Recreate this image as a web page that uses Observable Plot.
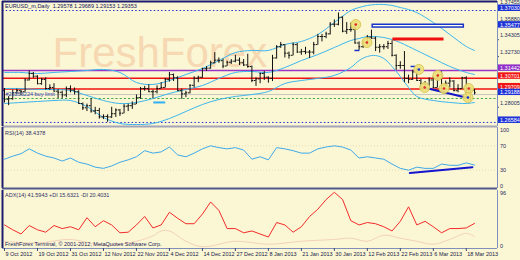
<!DOCTYPE html>
<html>
<head>
<meta charset="utf-8">
<script src="https://cdn.jsdelivr.net/npm/d3@7"></script>
<script src="https://cdn.jsdelivr.net/npm/@observablehq/plot@0.6"></script>
<style>
  html, body { margin: 0; padding: 0; background: #fbf7d4; }
  #chart { position: relative; width: 520px; height: 260px; background: #fbf7d4; overflow: hidden; }
  #chart > svg { position: absolute; left: 0; top: 0; }
</style>
</head>
<body>
<div id="chart"></div>
<script>
// ---------------- texts ----------------
const symbolTitle = "EURUSD_m,Daily  1.29578 1.29689 1.29153 1.29353";
const rsiTitle = "RSI(14) 38.4378";
const adxTitle = "ADX(14) 41.5943 +DI 15.6321 -DI 20.4031";
const copyright = "FreshForex Terminal, \u00A9 2001-2012, MetaQuotes Software Corp.";
const watermark = "FreshForex";
const orderLabel = "#26253224 buy limit";

// ---------------- daily bars (bar index 0 = 9 Oct 2012) ----------------
const barOpen = [1.2955,1.2875,1.2880,1.2935,1.2955,1.2945,1.3055,1.3115,1.3090,1.3020,
1.3060,1.2975,1.2985,1.2950,1.2940,1.2915,1.2975,1.2960,1.2945,1.2835,
1.2795,1.2815,1.2765,1.2770,1.2710,1.2715,1.2710,1.2740,1.2775,1.2745,
1.2810,1.2815,1.2830,1.2890,1.2975,1.2975,1.2945,1.2945,1.2975,1.2985,
1.3060,1.3105,1.3075,1.2955,1.2925,1.2935,1.3005,1.3070,1.3080,1.3160,
1.3165,1.3215,1.3240,1.3235,1.3185,1.3220,1.3230,1.3240,1.3215,1.3195,
1.3180,1.3050,1.3065,1.3115,1.3080,1.3070,1.3260,1.3365,1.3385,1.3305,
1.3285,1.3385,1.3315,1.3320,1.3315,1.3315,1.3385,1.3460,1.3460,1.3485,
1.3575,1.3575,1.3640,1.3510,1.3525,1.3525,1.3400,1.3365,1.3405,1.3455,
1.3445,1.3360,1.3365,1.3365,1.3395,1.3285,1.3190,1.3190,1.3070,1.3060,
1.3130,1.3050,1.3020,1.3010,1.3055,1.2985,1.3105,1.3000,1.3025,1.3045,
1.2955,1.2975,1.3075,1.2960,1.29578];
const barHigh = [1.2975,1.2900,1.2960,1.2970,1.2960,1.3065,1.3140,1.3125,1.3095,1.3070,
1.3075,1.3010,1.3020,1.2965,1.2950,1.2990,1.3000,1.2980,1.2955,1.2840,
1.2830,1.2880,1.2800,1.2790,1.2730,1.2730,1.2800,1.2785,1.2780,1.2825,
1.2830,1.2850,1.2915,1.2985,1.2995,1.3010,1.2960,1.3000,1.3030,1.3070,
1.3125,1.3110,1.3085,1.2970,1.2950,1.3010,1.3085,1.3090,1.3165,1.3180,
1.3230,1.3310,1.3260,1.3250,1.3230,1.3245,1.3285,1.3260,1.3245,1.3295,
1.3185,1.3075,1.3120,1.3135,1.3085,1.3285,1.3375,1.3405,1.3385,1.3315,
1.3400,1.3395,1.3340,1.3360,1.3330,1.3405,1.3480,1.3480,1.3500,1.3590,
1.3615,1.3680,1.3645,1.3590,1.3585,1.3575,1.3410,1.3420,1.3470,1.3520,
1.3455,1.3385,1.3385,1.3415,1.3420,1.3290,1.3225,1.3320,1.3100,1.3145,
1.3160,1.3060,1.3040,1.3075,1.3085,1.3110,1.3130,1.3045,1.3075,1.3050,
1.3010,1.3080,1.3085,1.2990,1.29689];
const barLow = [1.2840,1.2815,1.2865,1.2920,1.2910,1.2940,1.3045,1.3070,1.3010,1.3005,
1.2960,1.2955,1.2945,1.2880,1.2880,1.2890,1.2935,1.2915,1.2830,1.2770,
1.2760,1.2745,1.2730,1.2690,1.2685,1.2660,1.2695,1.2705,1.2715,1.2740,
1.2760,1.2780,1.2825,1.2875,1.2950,1.2940,1.2880,1.2925,1.2970,1.2980,
1.3035,1.3040,1.2950,1.2875,1.2890,1.2925,1.2980,1.3030,1.3070,1.3135,
1.3155,1.3205,1.3210,1.3160,1.3180,1.3200,1.3215,1.3190,1.3180,1.3165,
1.3030,1.2995,1.3020,1.3050,1.3025,1.3040,1.3250,1.3350,1.3260,1.3250,
1.3280,1.3305,1.3285,1.3290,1.3255,1.3290,1.3380,1.3410,1.3440,1.3475,
1.3545,1.3560,1.3495,1.3480,1.3500,1.3390,1.3330,1.3350,1.3375,1.3435,
1.3320,1.3305,1.3335,1.3340,1.3270,1.3145,1.3155,1.3030,1.3020,1.3050,
1.3045,1.2965,1.2970,1.2995,1.2975,1.2980,1.2955,1.2985,1.2980,1.2945,
1.2935,1.2970,1.2880,1.2850,1.29153];
const barClose = [1.2875,1.2880,1.2935,1.2955,1.2945,1.3055,1.3115,1.3090,1.3020,1.3060,
1.2975,1.2985,1.2950,1.2940,1.2915,1.2975,1.2960,1.2945,1.2835,1.2795,
1.2815,1.2765,1.2770,1.2710,1.2715,1.2710,1.2740,1.2775,1.2745,1.2810,
1.2815,1.2830,1.2890,1.2975,1.2975,1.2945,1.2945,1.2975,1.2985,1.3060,
1.3105,1.3075,1.2955,1.2925,1.2935,1.3005,1.3070,1.3080,1.3160,1.3165,
1.3215,1.3240,1.3235,1.3185,1.3220,1.3230,1.3240,1.3215,1.3195,1.3180,
1.3050,1.3065,1.3115,1.3080,1.3070,1.3260,1.3365,1.3385,1.3305,1.3285,
1.3385,1.3315,1.3320,1.3315,1.3315,1.3385,1.3460,1.3460,1.3485,1.3575,
1.3575,1.3640,1.3510,1.3525,1.3525,1.3400,1.3365,1.3405,1.3455,1.3445,
1.3360,1.3365,1.3365,1.3395,1.3285,1.3190,1.3190,1.3070,1.3060,1.3130,
1.3050,1.3020,1.3010,1.3055,1.2985,1.3105,1.3000,1.3025,1.3045,1.2955,
1.2975,1.3075,1.2960,1.29578,1.29353];

// ---------------- Bollinger bands ----------------
const bandIdx = [0,4,8,12,16,20,24,28,32,36,40,44,48,52,56,60,64,68,72,76,80,84,86,88,90,92,94,96,98,100,104,108,112,114];
const bandUpper = [1.3125,1.3125,1.3115,1.3125,1.3134,1.3143,1.3153,1.3125,1.3031,1.3013,1.3050,1.3106,1.3162,1.3236,1.3311,1.3330,1.3330,1.3386,1.3414,1.3479,1.3591,1.3703,1.3731,1.3750,1.3759,1.3759,1.3750,1.3731,1.3712,1.3684,1.3591,1.3479,1.3367,1.3330];
const bandMiddle = [1.2975,1.2975,1.2966,1.2966,1.2957,1.2910,1.2863,1.2835,1.2845,1.2882,1.2929,1.2966,1.3003,1.3069,1.3125,1.3134,1.3125,1.3171,1.3236,1.3292,1.3358,1.3423,1.3442,1.3460,1.3460,1.3451,1.3432,1.3404,1.3367,1.3330,1.3255,1.3181,1.3125,1.3106];
const bandLower = [1.2835,1.2845,1.2854,1.2863,1.2863,1.2807,1.2705,1.2649,1.2639,1.2649,1.2695,1.2761,1.2826,1.2873,1.2901,1.2919,1.2947,1.3022,1.3050,1.3069,1.3097,1.3171,1.3236,1.3274,1.3283,1.3255,1.3181,1.3087,1.2985,1.2901,1.2863,1.2845,1.2835,1.2845];

// ---------------- horizontal levels & objects ----------------
const levelPrices = [1.37030, 1.31442, 1.30701, 1.29709, 1.29188, 1.28820, 1.26584];
const levelKinds  = ["dot", "purple", "red", "red", "order", "green", "dot"];
const tagValues = [1.37030, 1.35477, 1.31442, 1.30701, 1.29709, 1.29188, 1.26584];
const tagKinds  = ["blue", "blue", "purple", "red", "red", "blue", "blue"];
const priceTickValues = [1.37455, 1.35880, 1.34305, 1.32730, 1.28005];

const boxStartIdx = 89.3, boxEndIdx = 111.4, boxTop = 1.3570, boxBottom = 1.3544;
const redSegStart = 94.2, redSegEnd = 106.6, redSegPrice = 1.3437;
const trendStart = [101.7, 1.2985], trendEnd = [111.9, 1.2891];
const cyanSegStart = 36.2, cyanSegEnd = 39.1, cyanSegPrice = 1.2845;
const markerIdx   = [85.2, 87.9, 100.5, 101.9, 105.1, 106.6, 112.6, 112.4];
const markerPrice = [1.3572, 1.3404, 1.3153, 1.2985, 1.3097, 1.2975, 1.2975, 1.2891];
const markerKinds = ["close","close","buy","close","close","close","close","buy"];
const dashIdx = [85.6, 99.2], dashPrice = [1.3330, 1.3181];

// ---------------- RSI(14) ----------------
const rsiIdx = [0,2,4,6,8,10,12,14,16,18,20,22,24,26,28,30,32,34,36,38,40,42,44,46,48,50,52,54,56,58,60,62,64,66,68,70,72,74,76,78,80,82,84,86,88,90,92,94,96,98,100,102,104,106,108,110,112,114];
const rsiValues = [48,53,57,65,58,53,50,45,50,43,40,35,33,37,43,47,52,62,58,60,68,55,52,58,65,70,67,65,67,63,48,52,47,67,65,62,58,58,65,68,70,68,63,50,52,50,48,40,33,30,35,33,33,40,38,38,42,38.4];
const rsiTrendIdx = [98.3, 113.5], rsiTrendValues = [25.5, 35];
const rsiLevels = [70, 30];

// ---------------- ADX(14) ----------------
const adxIdx = rsiIdx;
const adxValues = [39,31,24,38,31,27,38,33,36,31,51,36,46,39,26,27,39,53,34,39,60,50,41,41,57,77,63,33,33,26,29,24,19,43,39,27,36,53,65,81,93,81,46,39,43,41,36,29,45,69,39,45,36,26,33,33,34,41.6];
const diIdx = [0,8,16,24,32,36,38,40,44,48,56,64,72,80,84,88,92,96,100,104,108,112,114];
const diValues = [12,9,15,5,12,21,29,29,12,3,12,7,12,15,17,12,22,17,12,7,15,25,20];

// ---------------- date axis ----------------
const tickIdx = [0,8,16,24,32,40,48,56,64,72,80,88,96,104,112];
const tickLabels = ["9 Oct 2012","19 Oct 2012","31 Oct 2012","12 Nov 2012","22 Nov 2012","4 Dec 2012","14 Dec 2012","27 Dec 2012","8 Jan 2013","21 Jan 2013","30 Jan 2013","12 Feb 2013","22 Feb 2013","6 Mar 2013","18 Mar 2013"];

// ================= build =================
const font = "'Liberation Sans', Arial, sans-serif";
const FS = 5.5;
const xDomain = [-0.485, 119.57];
const priceDomain = [1.26207, 1.37870];
const navy = "#1c1c70", axisBlue = "#7f8fc0", labelInk = "#262b5c";
const base = {
  width: 520, height: 260, marginLeft: 2, marginRight: 23,
  x: {domain: xDomain, axis: null},
  style: {background: "transparent", fontFamily: font, fontSize: FS + "px", overflow: "visible"}
};

const bars = barOpen.map((o, i) => ({i, o, h: barHigh[i], l: barLow[i], c: barClose[i]}));
const bands = bandIdx.map((i, k) => ({i, up: bandUpper[k], mid: bandMiddle[k], low: bandLower[k]}));
const levels = levelPrices.map((v, k) => ({v, kind: levelKinds[k]}));
const tags = tagValues.map((v, k) => ({v, kind: tagKinds[k]}));
const markers = markerIdx.map((i, k) => ({i, p: markerPrice[k], kind: markerKinds[k]}));
const dashes = dashIdx.map((i, k) => ({i, p: dashPrice[k]}));

const levelStyle = {
  dot: {stroke: "#2230d8", strokeWidth: 1, strokeDasharray: "1.5,2.2"},
  purple: {stroke: "#9a34c8", strokeWidth: 1.5},
  red: {stroke: "#f01212", strokeWidth: 1.5},
  order: {stroke: "#c6c6c0", strokeWidth: 1},
  green: {stroke: "#48a848", strokeWidth: 1, strokeDasharray: "2.2,2"}
};
const tagColor = {blue: "#1d33d8", purple: "#9030c8", red: "#f01414"};

const pricePlot = Plot.plot({
  ...base,
  marginTop: 1, marginBottom: 134,
  y: {domain: priceDomain, axis: null},
  color: {type: "identity"},
  marks: [
    Plot.text([watermark], {frameAnchor: "top-left", dx: 50, dy: 52, text: d => d, textAnchor: "start", lineAnchor: "middle", fontSize: 42, fill: "#f6d9b2", fontFamily: font}),
    ...Object.entries(levelStyle).map(([k, s]) => Plot.ruleY(levels.filter(d => d.kind === k), {y: "v", ...s})),
    Plot.line(bands, {x: "i", y: "up", stroke: "#3db6ee", strokeWidth: 1, curve: "catmull-rom"}),
    Plot.line(bands, {x: "i", y: "mid", stroke: "#3db6ee", strokeWidth: 1, curve: "catmull-rom"}),
    Plot.line(bands, {x: "i", y: "low", stroke: "#3db6ee", strokeWidth: 1, curve: "catmull-rom"}),
    Plot.ruleY([cyanSegPrice], {y: d => d, x1: cyanSegStart, x2: cyanSegEnd, stroke: "#2fb0f0", strokeWidth: 2}),
    Plot.rect([0], {x1: boxStartIdx, x2: boxEndIdx, y1: boxBottom, y2: boxTop, fill: "#fffff2", stroke: "#1a34c8", strokeWidth: 1.5}),
    Plot.ruleY([redSegPrice], {y: d => d, x1: redSegStart, x2: redSegEnd, stroke: "#f01010", strokeWidth: 3}),
    Plot.ruleX(bars, {x: "i", y1: "l", y2: "h", stroke: "#111", strokeWidth: 1}),
    Plot.ruleY(bars, {y: "o", x1: d => d.i - 0.42, x2: "i", stroke: "#111", strokeWidth: 1}),
    Plot.ruleY(bars, {y: "c", x1: "i", x2: d => d.i + 0.42, stroke: "#111", strokeWidth: 1}),
    Plot.link([0], {x1: trendStart[0], y1: trendStart[1], x2: trendEnd[0], y2: trendEnd[1], stroke: "#1414c8", strokeWidth: 2}),
    Plot.ruleY(dashes, {y: "p", x1: d => d.i - 0.6, x2: d => d.i + 0.6, stroke: "#1a30d0", strokeWidth: 1.5}),
    Plot.dot(markers, {x: "i", y: "p", r: 5, fill: "#eee07a", stroke: "#d2be48", strokeWidth: 0.8, fillOpacity: 0.92}),
    Plot.dot(markers, {x: "i", y: "p", r: 1.3, fill: d => d.kind === "buy" ? "#1a30d0" : "#e02828"}),
    Plot.text([orderLabel], {frameAnchor: "left", y: () => levelPrices[4], dx: 3, dy: -0.5, text: d => d, textAnchor: "start", fill: "#3040a0", fontSize: FS}),
    Plot.text([symbolTitle], {frameAnchor: "top-left", dx: 2.5, dy: 4.5, text: d => d, textAnchor: "start", lineAnchor: "middle", fill: "#10105a", fontSize: FS}),
    // right price scale
    Plot.ruleY(priceTickValues, {y: d => d, x1: xDomain[1], x2: xDomain[1] + 0.45, stroke: labelInk}),
    Plot.text(priceTickValues, {y: d => d, frameAnchor: "right", dx: 2.5, dy: -4, text: d => d.toFixed(5), textAnchor: "start", lineAnchor: "middle", fill: labelInk, fontSize: FS}),
    Plot.rect(tags, {x1: () => xDomain[1] + 0.15, x2: () => xDomain[1] + 5.6, y1: "v", y2: "v", insetTop: -5.5, insetBottom: -1, fill: d => tagColor[d.kind]}),
    Plot.text(tags, {y: "v", frameAnchor: "right", dx: 2.5, dy: -2, text: d => d.v.toFixed(5), textAnchor: "start", lineAnchor: "middle", fill: "white", fontSize: FS}),
    // frame
    Plot.ruleY([priceDomain[1]], {stroke: navy, strokeWidth: 2}),
    Plot.ruleY([priceDomain[0]], {stroke: "#a4a4b8", strokeWidth: 2}),
    Plot.ruleX([xDomain[0]], {stroke: navy, strokeWidth: 2}),
    Plot.ruleX([xDomain[1]], {stroke: axisBlue, strokeWidth: 1})
  ]
});

const rsiRows = rsiIdx.map((i, k) => ({i, v: rsiValues[k]}));
const rsiTrend = rsiTrendIdx.map((i, k) => ({i, v: rsiTrendValues[k]}));
const rsiPlot = Plot.plot({
  ...base,
  marginTop: 127, marginBottom: 72,
  y: {domain: [0, 100], axis: null},
  marks: [
    Plot.ruleY(rsiLevels, {y: d => d, stroke: "#e2dcb4", strokeDasharray: "1,2"}),
    Plot.line(rsiRows, {x: "i", y: "v", stroke: "#3fa9ea", strokeWidth: 1}),
    Plot.line(rsiTrend, {x: "i", y: "v", stroke: "#1515d0", strokeWidth: 2}),
    Plot.text([rsiTitle], {frameAnchor: "top-left", dx: 2.5, dy: 5.5, text: d => d, textAnchor: "start", lineAnchor: "middle", fill: "#303068", fontSize: FS}),
    Plot.text([100], {y: d => d, frameAnchor: "right", dx: 2.5, dy: 0.5, text: d => String(d), textAnchor: "start", lineAnchor: "top", fill: labelInk, fontSize: FS}),
    Plot.text(rsiLevels, {y: d => d, frameAnchor: "right", dx: 2.5, text: d => String(d), textAnchor: "start", lineAnchor: "middle", fill: labelInk, fontSize: FS}),
    Plot.text([0], {y: d => d, frameAnchor: "right", dx: 2.5, dy: -1, text: d => String(d), textAnchor: "start", lineAnchor: "bottom", fill: labelInk, fontSize: FS}),
    Plot.ruleX([xDomain[0]], {stroke: navy, strokeWidth: 2}),
    Plot.ruleX([xDomain[1]], {stroke: axisBlue, strokeWidth: 1}),
    Plot.ruleY([0], {stroke: "#4e5a8c", strokeWidth: 2})
  ]
});

const adxRows = adxIdx.map((i, k) => ({i, v: adxValues[k]}));
const diRows = diIdx.map((i, k) => ({i, v: diValues[k]}));
const adxPlot = Plot.plot({
  ...base,
  marginTop: 190, marginBottom: 12,
  y: {domain: [0, 96], axis: null},
  marks: [
    Plot.line(diRows, {x: "i", y: "v", stroke: "#f3d2bc", strokeWidth: 1, curve: "catmull-rom"}),
    Plot.line(adxRows, {x: "i", y: "v", stroke: "#f42a2a", strokeWidth: 1}),
    Plot.text([adxTitle], {frameAnchor: "top-left", dx: 2.5, dy: 5, text: d => d, textAnchor: "start", lineAnchor: "middle", fill: "#303068", fontSize: FS}),
    Plot.text([copyright], {frameAnchor: "bottom-left", dx: 2.5, dy: -4.5, text: d => d, textAnchor: "start", lineAnchor: "middle", fill: "#202058", fontSize: FS}),
    Plot.text([96], {y: d => d, frameAnchor: "right", dx: 2.5, dy: 0.5, text: d => String(d), textAnchor: "start", lineAnchor: "top", fill: labelInk, fontSize: FS}),
    Plot.text([0], {y: d => d, frameAnchor: "right", dx: 2.5, dy: -0.5, text: d => String(d), textAnchor: "start", lineAnchor: "bottom", fill: labelInk, fontSize: FS}),
    Plot.ruleX([xDomain[0]], {stroke: navy, strokeWidth: 2}),
    Plot.ruleX([xDomain[1]], {stroke: axisBlue, strokeWidth: 1}),
    Plot.ruleY([0], {stroke: "#8090b8", strokeWidth: 1}),
    Plot.ruleX(tickIdx, {x: d => d, y1: 0, y2: -5, stroke: "#404878", strokeWidth: 1}),
    Plot.text(tickIdx, {x: d => d, frameAnchor: "bottom", dx: 1, dy: 6, text: d => tickLabels[tickIdx.indexOf(d)], textAnchor: "start", lineAnchor: "middle", fill: "#20204a", fontSize: FS})
  ]
});

const chart = document.getElementById("chart");
chart.append(pricePlot, rsiPlot, adxPlot);
</script>
</body>
</html>
